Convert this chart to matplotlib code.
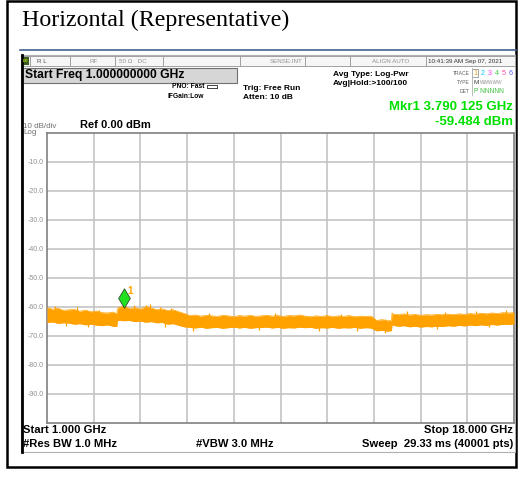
import matplotlib
matplotlib.use("Agg")
import matplotlib.pyplot as plt
from matplotlib.patches import Rectangle

W, H = 523, 478

# sweep, GHz
freq = [1.0, 1.2, 1.4, 1.6, 1.8, 2.0, 2.2, 2.4, 2.6, 2.8, 3.0, 3.2, 3.4, 3.54,
        3.56, 3.6, 3.8, 4.0, 4.2, 4.4, 4.6, 4.8, 5.0, 5.2, 5.4, 5.6, 5.8, 6.0,
        6.2, 6.4, 6.6, 6.8, 7.0, 7.2, 7.4, 7.6, 7.8, 8.0, 8.2, 8.4, 8.6, 8.8,
        9.0, 9.2, 9.4, 9.6, 9.8, 10.0, 10.2, 10.4, 10.6, 10.8, 11.0, 11.2,
        11.4, 11.6, 11.8, 12.0, 12.2, 12.4, 12.6, 12.8, 13.0, 13.2, 13.4, 13.54,
        13.56, 13.6, 13.8, 14.0, 14.2, 14.4, 14.6, 14.8, 15.0, 15.2, 15.4, 15.6,
        15.8, 16.0, 16.2, 16.4, 16.6, 16.8, 17.0, 17.2, 17.4, 17.6, 17.8, 18.0]
# trace envelope, dBm
trace_hi = [-60.2, -60.7, -60.4, -61.1, -60.9, -60.8, -61.4, -61.0, -61.6, -61.3, -61.9, -62.0, -61.7, -62.3,
            -60.8, -60.1, -59.6, -60.5, -60.2, -60.7, -59.8, -60.3, -60.9, -60.6, -61.2, -60.9, -61.6, -62.2,
            -62.9, -62.7, -63.1, -62.8, -63.0, -63.2, -62.8, -63.0, -63.3, -62.9, -63.1, -62.8, -63.2, -63.0,
            -62.8, -63.1, -62.9, -63.2, -62.9, -63.0, -62.7, -63.1, -63.3, -63.0, -63.2, -62.9,
            -63.3, -63.0, -63.2, -62.9, -63.3, -63.1, -63.2, -63.1, -64.6, -64.3, -64.7, -64.6,
            -62.0, -62.4, -62.6, -62.3, -62.7, -62.5, -62.8, -62.6, -62.7, -62.5, -62.6, -62.4,
            -62.6, -62.3, -62.5, -62.2, -62.4, -62.1, -62.3, -62.0, -62.2, -61.9, -62.0, -61.9]
trace_lo = [-65.3, -65.1, -65.6, -65.4, -65.5, -65.9, -65.7, -66.1, -65.9, -66.2, -66.4, -66.1, -66.6, -66.7,
            -64.9, -64.5, -64.7, -64.6, -65.0, -64.8, -65.2, -65.0, -65.4, -65.3, -65.9, -65.7, -66.3, -66.8,
            -67.0, -67.2, -66.9, -67.3, -67.1, -67.0, -67.3, -67.1, -66.9, -67.2, -67.0, -67.3, -67.1, -67.0,
            -66.9, -67.2, -67.0, -67.3, -67.1, -67.2, -66.9, -67.1, -67.0, -67.3, -67.1, -67.2,
            -67.0, -67.3, -67.1, -67.2, -67.0, -67.3, -67.1, -67.2, -68.2, -68.0, -68.3, -68.1,
            -66.0, -66.3, -66.6, -66.4, -66.8, -66.6, -66.9, -66.7, -66.8, -66.6, -66.7, -66.4,
            -66.6, -66.3, -66.5, -66.2, -66.4, -66.1, -66.3, -66.0, -66.2, -65.9, -66.0, -65.8]
# isolated noise spikes poking out of the band
spike_up_f = [1.3, 2.1, 2.9, 4.15, 4.6, 4.75, 5.1, 5.5, 6.9, 9.3, 11.7, 14.1, 15.5, 16.6, 17.7]
spike_up_db = [-59.7, -60.1, -60.9, -59.2, -59.1, -58.9, -59.8, -60.2, -62.0, -62.1, -62.2, -61.3, -61.6, -61.2, -60.9]
spike_dn_f = [1.7, 2.5, 5.3, 6.3, 8.7, 10.9, 12.3, 13.3, 15.2, 17.1]
spike_dn_db = [-66.4, -67.0, -66.8, -68.2, -68.0, -68.1, -68.1, -69.0, -67.6, -67.0]
y_ticks = [-10, -20, -30, -40, -50, -60, -70, -80, -90]
mkr_freq = 3.790125
mkr_level = -59.484

fig = plt.figure(figsize=(W / 100, H / 100), dpi=100)
bg = fig.add_axes([0, 0, 1, 1])
bg.set_xlim(0, W)
bg.set_ylim(H, 0)
bg.axis("off")

def txt(x, y, s, size=6, color="black", weight="bold", ha="left", family="Liberation Sans"):
    bg.text(x, y, s, fontsize=size, color=color, fontweight=weight, ha=ha,
            va="center", family=family)

# page frame and heading
bg.add_patch(Rectangle((7, 1), 509, 466, fill=False, ec="black", lw=1.8))
txt(22, 20, "Horizontal (Representative)", size=17.3, weight="normal", family="Liberation Serif")
bg.plot([20, 516], [49.5, 49.5], color="#41618f", lw=1.2)

# analyzer screen
bg.add_patch(Rectangle((21, 55), 494, 397, fc="white", ec="#b0b0b0", lw=0.8))
bg.plot([21.5, 21.5], [55, 452], color="black", lw=2)

# status bar
bg.add_patch(Rectangle((22, 56), 493, 10, fc="#f6f6f6", ec="#a0a0a0", lw=0.7))
for sx in [30, 70, 115, 163, 240, 305, 350, 426]:
    bg.plot([sx, sx], [56, 66], color="#a0a0a0", lw=0.7)
bg.add_patch(Rectangle((22, 57), 7, 8, fc="#3a5a20", ec="none"))
txt(25.5, 61, "LXI", size=2.5, color="#c8f000", ha="center")
txt(37, 61, "R L", size=4.5, color="#505050", weight="normal")
txt(90, 61, "RF", size=4.5, color="#909090", weight="normal")
txt(119, 61, "50 Ω   DC", size=4.5, color="#909090", weight="normal")
txt(270, 61, "SENSE:INT", size=4.5, color="#909090", weight="normal")
txt(372, 61, "ALIGN AUTO", size=4.5, color="#909090", weight="normal")
txt(428, 61, "10:41:39 AM Sep 07, 2021", size=4.5, color="#303030", weight="normal")

# active function box
bg.add_patch(Rectangle((22, 67.5), 215, 15, fc="#d6d6d6", ec="#707070", lw=0.8))
txt(25, 75, "Start Freq 1.000000000 GHz", size=8.7)

txt(204, 86, "PNO: Fast", size=4.8, ha="right")
txt(204, 96, "IFGain:Low", size=4.8, ha="right")
bg.plot([207, 207, 217, 217], [88, 85, 85, 88], color="#404040", lw=0.7)
bg.plot([207, 217], [88, 88], color="#404040", lw=0.7)
txt(243, 88, "Trig: Free Run", size=6.0)
txt(243, 97, "Atten: 10 dB", size=6.0)
txt(333, 74, "Avg Type: Log-Pwr", size=6.0)
txt(333, 83, "Avg|Hold:>100/100", size=6.0)

# trace legend block
txt(470, 73, "TRACE", size=3.6, color="#606060", weight="normal", ha="right")
txt(470, 82, "TYPE", size=3.6, color="#606060", weight="normal", ha="right")
txt(470, 91, "DET", size=3.6, color="#606060", weight="normal", ha="right")
trace_cols = ["#f0a020", "#00c8ff", "#ff40ff", "#40d040", "#ff50a0", "#6060ff"]
for i, c in enumerate(trace_cols):
    txt(475 + i * 7.2, 73, str(i + 1), size=5.2, color=c, weight="normal", ha="center")
bg.add_patch(Rectangle((472, 69), 6, 8, fill=False, ec="#808080", lw=0.5))
bg.plot([472, 472], [68, 95], color="#b0b0b0", lw=0.6)
txt(474, 82, "M", size=4.6, color="#404040", weight="normal")
txt(480, 82, "WWWWW", size=3.4, color="#909090", weight="normal")
txt(474, 91, "P NNNNN", size=4.8, color="#40c040", weight="normal")

# marker readout
txt(513, 107, "Mkr1 3.790 125 GHz", size=9.5, color="#00e000", ha="right")
txt(513, 122, "-59.484 dBm", size=9.5, color="#00e000", ha="right")

txt(23, 126, "10 dB/div", size=5.8, color="#707070", weight="normal")
txt(23, 132.5, "Log", size=5.8, color="#707070", weight="normal")
txt(80, 125, "Ref 0.00 dBm", size=8.0)

# bottom annotations
txt(23, 430, "Start 1.000 GHz", size=8.1)
txt(513, 430, "Stop 18.000 GHz", size=8.1, ha="right")
txt(23, 444, "#Res BW 1.0 MHz", size=8.1)
txt(235, 444, "#VBW 3.0 MHz", size=8.1, ha="center")
txt(513, 444, "Sweep  29.33 ms (40001 pts)", size=8.1, ha="right")

# graticule
x0, x1, y0, y1 = 47, 514, 133.4, 423
ax = fig.add_axes([x0 / W, 1 - y1 / H, (x1 - x0) / W, (y1 - y0) / H])
ax.set_xlim(1.0, 18.0)
ax.set_ylim(-100, 0)
for i in range(1, 10):
    ax.axvline(1.0 + i * 1.7, color="#c4c4c4", lw=1.2, zorder=1)
for v in y_ticks:
    ax.axhline(v, color="#c4c4c4", lw=1.2, zorder=1)
    txt(44, y0 + (-v) * (y1 - y0) / 100, "%.1f" % v, size=5, color="#909090",
        weight="normal", ha="right")
for s in ax.spines.values():
    s.set_color("#808080")
    s.set_linewidth(1.2)
ax.set_xticks([])
ax.set_yticks([])

trace_col = "#ffa200"
ax.fill_between(freq, trace_lo, trace_hi, color=trace_col, lw=0, zorder=3)
ax.plot(freq, trace_hi, color=trace_col, lw=0.5, zorder=3)
ax.plot(freq, trace_lo, color=trace_col, lw=0.5, zorder=3)
ax.vlines(spike_up_f, -64, spike_up_db, color=trace_col, lw=0.9, zorder=3)
ax.vlines(spike_dn_f, -64, spike_dn_db, color=trace_col, lw=0.9, zorder=3)

# marker 1 diamond sits just above the trace point
diamond = [(0, 1), (0.6, 0), (0, -1), (-0.6, 0), (0, 1)]
ax.plot(mkr_freq, mkr_level + 2.6, marker=diamond, ms=14, mfc="#20e020", mec="#305030",
        mew=0.6, zorder=5)
ax.text(mkr_freq + 0.15, mkr_level + 5.2, "1", color=trace_col, fontsize=7,
        fontweight="bold", family="Liberation Sans", va="center", zorder=5)

fig.savefig("out.png", dpi=100)
